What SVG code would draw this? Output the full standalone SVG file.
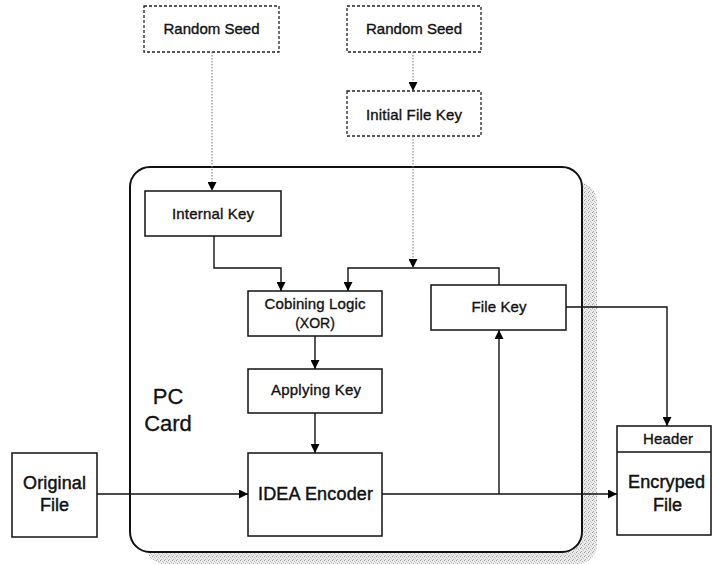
<svg xmlns="http://www.w3.org/2000/svg" width="712" height="565" viewBox="0 0 712 565">
<defs>
<marker id="ah" viewBox="0 0 10 10" refX="10" refY="5" markerWidth="9" markerHeight="9" markerUnits="userSpaceOnUse" orient="auto">
<path d="M0,0 L10,5 L0,10 z" fill="#000"/>
</marker>
<pattern id="stip" width="4" height="4" patternUnits="userSpaceOnUse">
<rect width="4" height="4" fill="#ececec"/>
<rect x="0" y="0" width="1" height="1" fill="#9a9a9a"/>
<rect x="2" y="1" width="1" height="1" fill="#b8b8b8"/>
<rect x="1" y="3" width="1" height="1" fill="#aaaaaa"/>
<rect x="3" y="2" width="1" height="1" fill="#c8c8c8"/>
</pattern>
<style>
.box{fill:#fff;stroke:#111;stroke-width:1.5}
.dbox{fill:#fff;stroke:#222;stroke-width:1.3;stroke-dasharray:3 2}
.ln{fill:none;stroke:#111;stroke-width:1.4}
.dot{fill:none;stroke:#777;stroke-width:1;stroke-dasharray:1.5 1.5}
text{font-family:"Liberation Sans",Arial,sans-serif;fill:#111;stroke:#111;stroke-width:0.35;text-anchor:middle}
.s{font-size:15px}
.l{font-size:18px;stroke-width:0.45}
.xl{font-size:22px;stroke-width:0.3}
</style>
</defs>

<g id="pc-card">
<rect x="145" y="182" width="452" height="382" rx="20" fill="url(#stip)"/>
<rect x="130" y="167" width="452" height="385" rx="20" fill="#fff" stroke="#111" stroke-width="2"/>
<text class="xl" x="168" y="404">PC</text>
<text class="xl" x="168" y="431">Card</text>
</g>

<g id="random-seed-1">
<rect class="dbox" x="144" y="6" width="135" height="46"/>
<text class="s" x="211.5" y="34" textLength="96">Random Seed</text>
</g>
<g id="random-seed-2">
<rect class="dbox" x="347" y="6" width="134" height="46"/>
<text class="s" x="414" y="34" textLength="96">Random Seed</text>
</g>
<g id="initial-file-key">
<rect class="dbox" x="347" y="91" width="134" height="45"/>
<text class="s" x="414" y="120" textLength="96">Initial File Key</text>
</g>
<g id="internal-key">
<rect class="box" x="145" y="191" width="136" height="45"/>
<text class="s" x="213" y="219" textLength="82">Internal Key</text>
</g>
<g id="combining-logic">
<rect class="box" x="248" y="291" width="134" height="45"/>
<text class="s" x="315" y="309" textLength="101">Cobining Logic</text>
<text class="s" x="315" y="328" style="font-size:14px">(XOR)</text>
</g>
<g id="file-key">
<rect class="box" x="431" y="285" width="135" height="45"/>
<text class="s" x="499" y="312" textLength="55">File Key</text>
</g>
<g id="applying-key">
<rect class="box" x="248" y="369" width="134" height="44"/>
<text class="s" x="316" y="395" textLength="90">Applying Key</text>
</g>
<g id="idea-encoder">
<rect class="box" x="248" y="453" width="134" height="83"/>
<text class="l" x="315.5" y="500" textLength="115">IDEA Encoder</text>
</g>
<g id="original-file">
<rect class="box" x="12" y="453" width="85" height="84"/>
<text class="l" x="54.5" y="489" textLength="63">Original</text>
<text class="l" x="54.5" y="511" textLength="29">File</text>
</g>
<g id="encrypted-file">
<rect class="box" x="617" y="426" width="94" height="109"/>
<line class="ln" x1="617" y1="452" x2="711" y2="452"/>
<text class="s" x="668" y="444" textLength="50">Header</text>
<text class="l" x="666.5" y="488" textLength="77">Encryped</text>
<text class="l" x="667.5" y="511" textLength="29">File</text>
</g>

<g id="connectors">
<path class="dot" d="M212,52 V191" marker-end="url(#ah)"/>
<path class="dot" d="M413,52 V91" marker-end="url(#ah)"/>
<path class="dot" d="M413,136 V268" marker-end="url(#ah)"/>
<path class="ln" d="M214,236 V268 H281 V291" marker-end="url(#ah)"/>
<path class="ln" d="M499,285 V268 H348 V291" marker-end="url(#ah)"/>
<path class="ln" d="M315,336 V369" marker-end="url(#ah)"/>
<path class="ln" d="M315,413 V453" marker-end="url(#ah)"/>
<path class="ln" d="M97,494 H248" marker-end="url(#ah)"/>
<path class="ln" d="M382,494 H617" marker-end="url(#ah)"/>
<path class="ln" d="M499,494 V330" marker-end="url(#ah)"/>
<path class="ln" d="M566,307 H667 V426" marker-end="url(#ah)"/>
</g>
</svg>
